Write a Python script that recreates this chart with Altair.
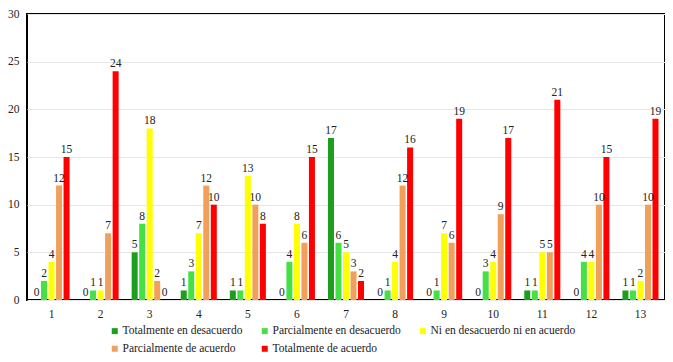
import altair as alt
import pandas as pd

questions = [str(i) for i in range(1, 14)]
categories = [
    "Totalmente en desacuerdo",
    "Parcialmente en desacuerdo",
    "Ni en desacuerdo ni en acuerdo",
    "Parcialmente de acuerdo",
    "Totalmente de acuerdo",
]
tot_desacuerdo = [0, 0, 5, 1, 1, 0, 17, 0, 0, 0, 1, 0, 1]
parc_desacuerdo = [2, 1, 8, 3, 1, 4, 6, 1, 1, 3, 1, 4, 1]
ni_ni = [4, 1, 18, 7, 13, 8, 5, 4, 7, 4, 5, 4, 2]
parc_acuerdo = [12, 7, 2, 12, 10, 6, 3, 12, 6, 9, 5, 10, 10]
tot_acuerdo = [15, 24, 0, 10, 8, 15, 2, 16, 19, 17, 21, 15, 19]
colors = ["#1e9e1e", "#44e044", "#ffff00", "#f0a05a", "#ff0000"]

series = [tot_desacuerdo, parc_desacuerdo, ni_ni, parc_acuerdo, tot_acuerdo]
rows = []
for ci, (cat, vals) in enumerate(zip(categories, series)):
    for q, v in zip(questions, vals):
        rows.append({"q": q, "cat": cat, "order": ci, "val": v})
df = pd.DataFrame(rows)

FONT = "Liberation Serif"
FS = 11.5

x = alt.X("q:N", sort=questions, title=None,
          scale=alt.Scale(paddingInner=0.25, paddingOuter=0.125),
          axis=alt.Axis(labelAngle=0, ticks=False, domain=False, grid=False,
                        labelFont=FONT, labelFontSize=FS, labelColor="#222",
                        labelPadding=8))
xoff = alt.XOffset("cat:N", sort=categories,
                   scale=alt.Scale(paddingInner=0.2, paddingOuter=0.05))
y = alt.Y("val:Q", title=None,
          scale=alt.Scale(domain=[0, 30], nice=False),
          axis=alt.Axis(values=[0, 5, 10, 15, 20, 25, 30], ticks=False, domain=False,
                        gridColor="#e6e6e6", gridWidth=1,
                        labelFont=FONT, labelFontSize=FS, labelColor="#222",
                        labelPadding=8))

color = alt.Color("cat:N", sort=categories,
                  scale=alt.Scale(domain=categories, range=colors),
                  legend=alt.Legend(title=None, orient="none", legendX=82, legendY=311,
                                    direction="horizontal", columns=3, gridAlign="each",
                                    symbolType="square", symbolSize=36,
                                    symbolStrokeWidth=0,
                                    labelFont=FONT, labelFontSize=FS, labelColor="#222",
                                    labelLimit=400,
                                    labelOffset=2, columnPadding=16, rowPadding=5,
                                    padding=0))

bars = alt.Chart(df).mark_bar().encode(x=x, xOffset=xoff, y=y, color=color)
labels = alt.Chart(df).mark_text(baseline="bottom", dy=-2, font=FONT, fontSize=FS,
                                 color="#222").encode(
    x=x, xOffset=xoff, y=y, text="val:Q")

chart = alt.layer(bars, labels).properties(
    width=638, height=286,
    autosize=alt.AutoSizeParams(type="none"),
    padding={"left": 19, "top": 6, "right": 0, "bottom": 54},
).configure(font=FONT).configure_view(stroke="#000", strokeWidth=2)

chart.save("out.html", embed_options={"renderer": "svg", "actions": False})
